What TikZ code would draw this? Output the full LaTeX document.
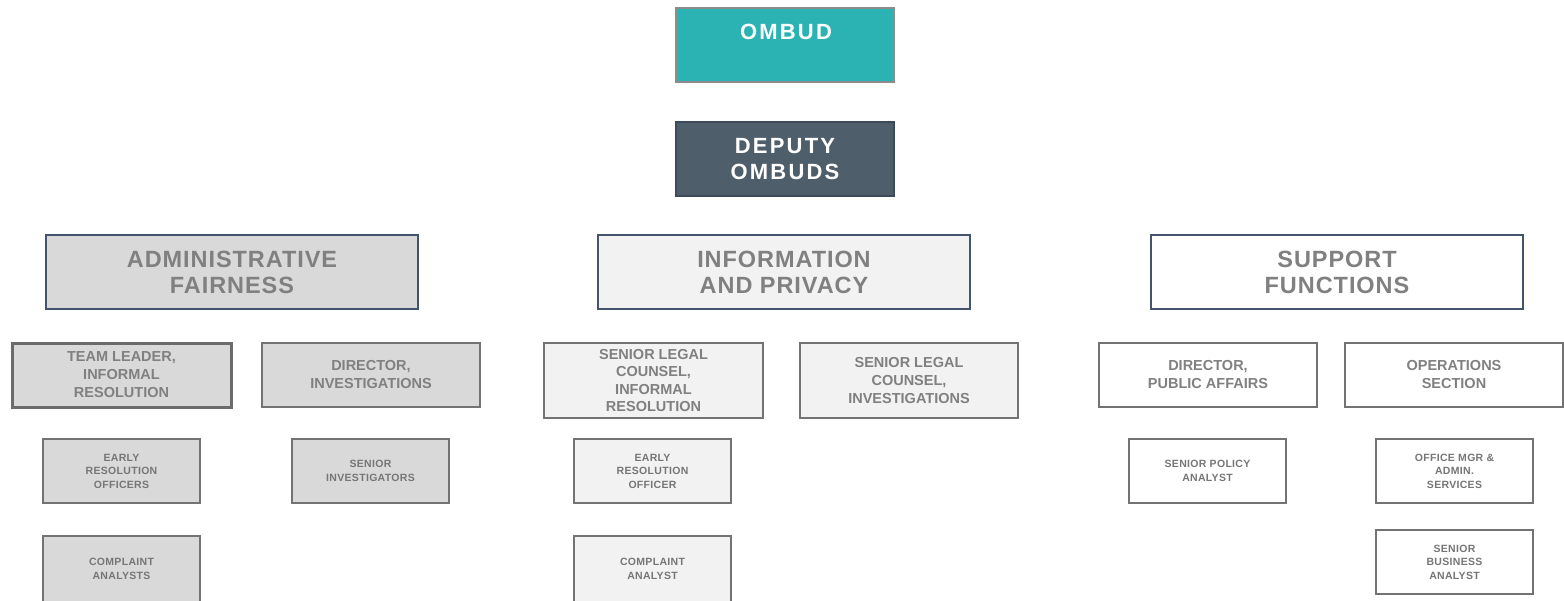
\documentclass[tikz,border=0pt]{standalone}
\usepackage{fontspec}
\setmainfont{Liberation Sans}
\definecolor{teal}{HTML}{2AB3B2}
\definecolor{slate}{HTML}{4E5F6B}
\definecolor{slateedge}{HTML}{3C4A5A}
\definecolor{headedge}{HTML}{44546A}
\definecolor{boxedge}{HTML}{737373}
\definecolor{txtgray}{HTML}{808080}
\definecolor{fillA}{HTML}{D9D9D9}
\definecolor{fillB}{HTML}{F2F2F2}
\begin{document}
\begin{tikzpicture}[x=1pt,y=-1pt,
  every node/.style={inner sep=0pt, outer sep=0pt, align=center},
  toptext/.style={text=white,
    font=\fontsize{22}{26}\selectfont\bfseries\addfontfeatures{LetterSpace=10}},
  topbox/.style={toptext, rectangle, minimum width=218pt, minimum height=74pt},
  headbox/.style={rectangle, draw=headedge, line width=2pt, minimum width=372pt,
    minimum height=74pt, text=txtgray,
    font=\fontsize{23.5}{26}\selectfont\bfseries\addfontfeatures{LetterSpace=4}},
  rolebox/.style={rectangle, draw=boxedge, line width=2pt, minimum width=218pt,
    minimum height=64pt, text=txtgray,
    font=\fontsize{14.5}{18}\selectfont\bfseries},
  staffbox/.style={rectangle, draw=boxedge, line width=2pt, minimum width=157pt,
    minimum height=64pt, text=txtgray!92!black,
    font=\fontsize{10.5}{13.5}\selectfont\bfseries\addfontfeatures{LetterSpace=3}},
  greyfill/.style={fill=fillA},
  lightfill/.style={fill=fillB},
  whitefill/.style={fill=white}]

\useasboundingbox (0,0) rectangle (1564,600);

% executive level
\node[topbox, fill=teal, draw=black!45, line width=2.5pt] (ombud) at (785,45) {};
\node[toptext] (ombudtxt) at (786,32) {OMBUD};
\node[topbox, fill=slate, draw=slateedge, line width=2.5pt] (deputy) at (785,159)
  {DEPUTY\\OMBUDS};

% branch headers
\node[headbox, greyfill]  (af) at (232,272)  {ADMINISTRATIVE\\FAIRNESS};
\node[headbox, lightfill] (ip) at (784,272)  {INFORMATION\\AND PRIVACY};
\node[headbox, whitefill] (sf) at (1337,272) {SUPPORT\\FUNCTIONS};

% managers
\node[rolebox, greyfill, minimum width=219pt, line width=3pt, draw=black!58]
  (teamlead) at (121.5,375) {TEAM LEADER,\\INFORMAL\\RESOLUTION};
\node[rolebox, greyfill] (dirinv) at (371,375) {DIRECTOR,\\INVESTIGATIONS};
\node[rolebox, lightfill, minimum width=219pt, minimum height=75pt,
  font=\fontsize{14.5}{17.2}\selectfont\bfseries]
  (slcir) at (653.5,380.5) {SENIOR LEGAL\\COUNSEL,\\INFORMAL\\RESOLUTION};
\node[rolebox, lightfill, minimum height=75pt]
  (slcinv) at (909,380.5) {SENIOR LEGAL\\COUNSEL,\\INVESTIGATIONS};
\node[rolebox, whitefill] (dirpa) at (1208,375) {DIRECTOR,\\PUBLIC AFFAIRS};
\node[rolebox, whitefill] (ops) at (1454,375) {OPERATIONS\\SECTION};

% staff
\node[staffbox, greyfill]  (ero) at (121.5,471)  {EARLY\\RESOLUTION\\OFFICERS};
\node[staffbox, greyfill]  (sinv) at (370.5,471) {SENIOR\\INVESTIGATORS};
\node[staffbox, lightfill] (eroip) at (652.5,471) {EARLY\\RESOLUTION\\OFFICER};
\node[staffbox, whitefill] (spa) at (1207.5,471) {SENIOR POLICY\\ANALYST};
\node[staffbox, whitefill] (omgr) at (1454.5,471) {OFFICE MGR \&\\ADMIN.\\SERVICES};

\node[staffbox, greyfill, minimum height=66pt]  (ca) at (121.5,569) {COMPLAINT\\ANALYSTS};
\node[staffbox, lightfill, minimum height=66pt] (caip) at (652.5,569) {COMPLAINT\\ANALYST};
\node[staffbox, whitefill] (sba) at (1454.5,562) {SENIOR\\BUSINESS\\ANALYST};

\end{tikzpicture}
\end{document}
